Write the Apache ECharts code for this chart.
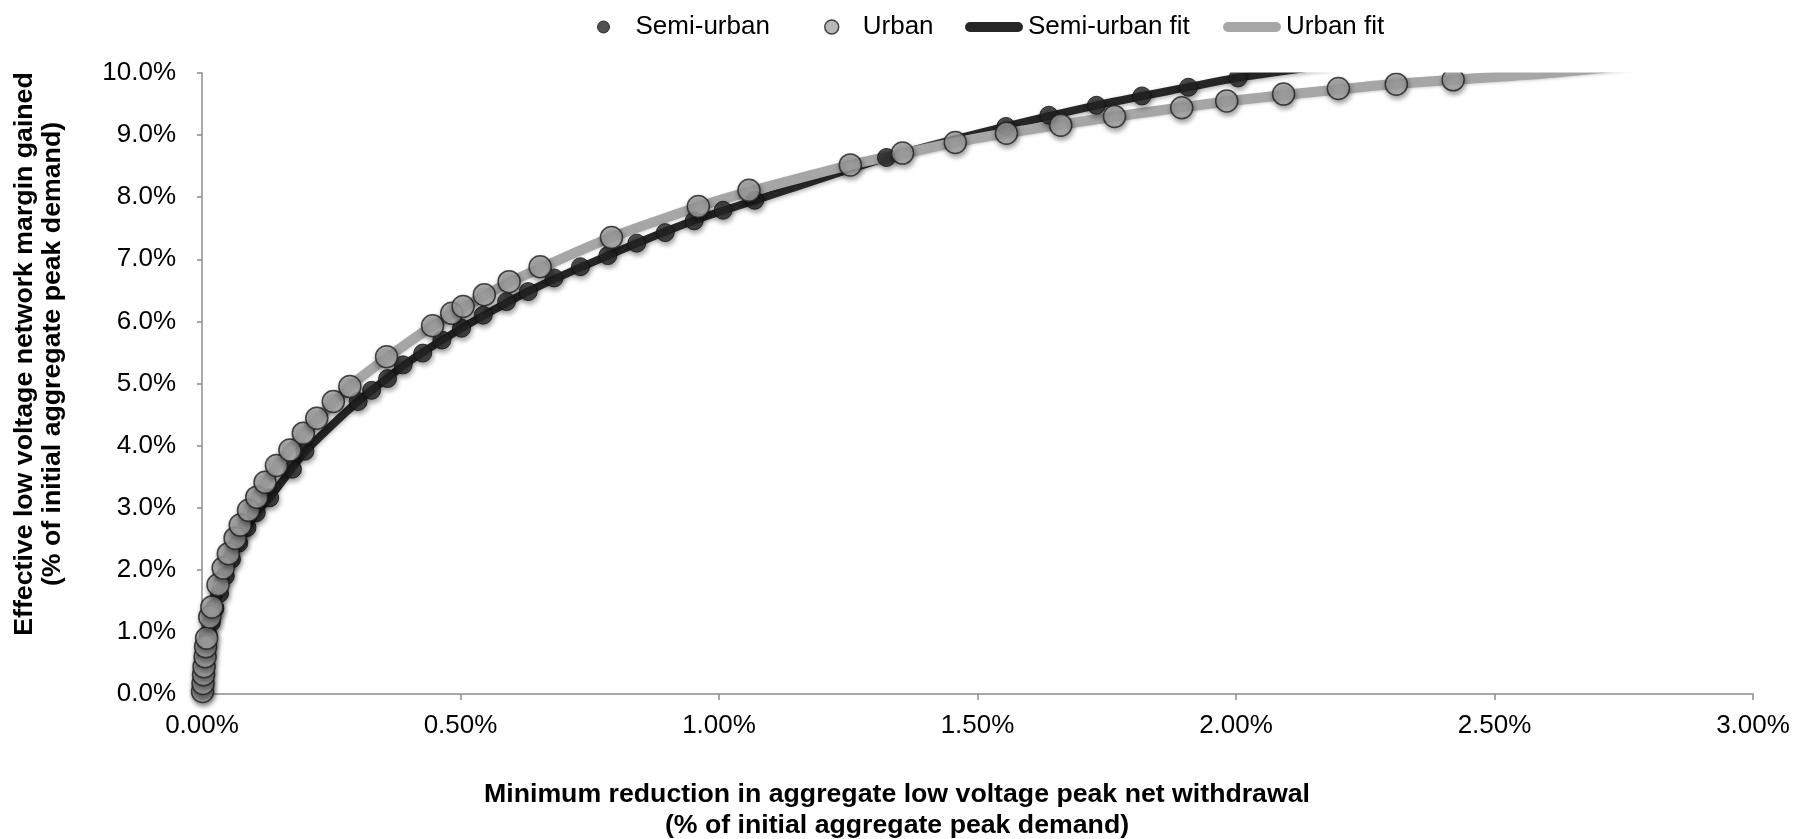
<!DOCTYPE html>
<html><head><meta charset="utf-8">
<script src="https://cdn.jsdelivr.net/npm/echarts@6/dist/echarts.min.js"></script>
<style>html,body{margin:0;padding:0;background:#fff}#c{width:1794px;height:839px}</style>
</head><body><div id="c"></div>
<script>
// x values and y values in percent
const seriesNames = ['Semi-urban', 'Urban', 'Semi-urban fit', 'Urban fit'];
const xTickLabels = ['0.00%', '0.50%', '1.00%', '1.50%', '2.00%', '2.50%', '3.00%'];
const yTickLabels = ['0.0%', '1.0%', '2.0%', '3.0%', '4.0%', '5.0%', '6.0%', '7.0%', '8.0%', '9.0%', '10.0%'];
const xAxisTitle = 'Minimum reduction in aggregate low voltage peak net withdrawal\n(% of initial aggregate peak demand)';
const yAxisTitle = 'Effective low voltage network margin gained\n(% of initial aggregate peak demand)';

const semiUrbanPoints = [
  [0.001,0.05],[0.002,0.20],[0.003,0.38],[0.005,0.56],[0.008,0.75],[0.012,0.95],[0.018,1.15],
  [0.025,1.38],[0.034,1.62],[0.045,1.90],[0.057,2.17],[0.071,2.43],[0.087,2.68],[0.105,2.92],
  [0.131,3.16],[0.175,3.62],[0.199,3.91],[0.302,4.71],[0.328,4.89],[0.359,5.08],[0.389,5.30],
  [0.427,5.49],[0.464,5.70],[0.502,5.89],[0.544,6.10],[0.589,6.32],[0.631,6.48],[0.681,6.70],
  [0.732,6.88],[0.785,7.06],[0.841,7.26],[0.896,7.43],[0.952,7.62],[1.008,7.79],[1.069,7.95],
  [1.324,8.64],[1.555,9.14],[1.638,9.32],[1.730,9.48],[1.818,9.63],[1.908,9.77],[2.004,9.92]
];
const urbanPoints = [
  [0.001,0.04],[0.002,0.17],[0.003,0.31],[0.004,0.44],[0.006,0.60],[0.007,0.76],[0.009,0.90],
  [0.015,1.24],[0.019,1.40],[0.031,1.76],[0.041,2.03],[0.051,2.26],[0.064,2.51],[0.074,2.72],
  [0.090,2.96],[0.106,3.17],[0.122,3.41],[0.144,3.68],[0.170,3.93],[0.196,4.20],[0.222,4.44],
  [0.254,4.71],[0.286,4.95],[0.357,5.43],[0.446,5.93],[0.483,6.13],[0.505,6.24],[0.546,6.43],
  [0.594,6.64],[0.654,6.88],[0.792,7.35],[0.960,7.85],[1.058,8.11],[1.254,8.52],[1.355,8.71],
  [1.457,8.88],[1.556,9.03],[1.661,9.16],[1.765,9.30],[1.895,9.44],[1.982,9.55],[2.092,9.66],
  [2.198,9.75],[2.310,9.82],[2.420,9.89]
];
const semiUrbanFit = [
  [0,0],[0.002,0.20],[0.005,0.56],[0.012,0.95],[0.025,1.38],[0.045,1.90],[0.071,2.43],[0.105,2.92],
  [0.131,3.16],[0.200,3.91],[0.300,4.70],[0.400,5.35],[0.500,5.88],[0.630,6.48],[0.785,7.06],
  [0.950,7.62],[1.070,7.95],[1.320,8.63],[1.550,9.13],[1.730,9.48],[1.900,9.76],[2.000,9.92],
  [2.065,10.00],[2.300,10.27]
];
const urbanFit = [
  [0,0],[0.002,0.20],[0.005,0.50],[0.009,0.90],[0.020,1.42],[0.040,2.00],[0.070,2.64],[0.100,3.10],
  [0.150,3.73],[0.200,4.22],[0.300,5.05],[0.450,5.95],[0.600,6.65],[0.800,7.38],[1.000,7.95],
  [1.250,8.51],[1.500,8.95],[1.750,9.28],[2.000,9.56],[2.250,9.78],[2.420,9.89],[2.610,10.00],
  [2.850,10.20]
];

const FONT = "'Liberation Sans', Arial, sans-serif";
const barIcon = 'path://M5,0 L53,0 A5,5 0 0 1 53,10 L5,10 A5,5 0 0 1 5,0 Z';
const chart = echarts.init(document.getElementById('c'), null, {renderer: 'canvas'});
const markerShadow = {shadowBlur: 5, shadowColor: 'rgba(0,0,0,0.45)', shadowOffsetX: 1, shadowOffsetY: 3};
const legendText = {fontFamily: FONT, fontSize: 26, color: '#000'};
const SEMI_COLOR = '#262626', URBAN_COLOR = '#a6a6a6';

function oneLegend(name, left, opts) {
  return Object.assign({left: left, top: 9, itemGap: 0, selectedMode: false,
    textStyle: Object.assign({}, legendText, opts.pad ? {padding: [0, 0, 0, opts.pad]} : {}),
    itemWidth: opts.w, itemHeight: opts.h,
    data: [{name: name, icon: opts.icon, itemStyle: opts.itemStyle}]});
}

chart.setOption({
  animation: false,
  backgroundColor: '#fff',
  grid: {left: 202, right: 41, top: 73, bottom: 145, containLabel: false},
  graphic: [
    {type: 'rect', silent: true, z: 50, shape: {x: 203, y: 38, width: 1600, height: 34.5},
      style: {fill: '#fff'}},
    {type: 'text', x: 897, y: 810.5, z: 60,
      style: {text: xAxisTitle, font: "bold 26.7px 'Liberation Sans', Arial, sans-serif",
        fill: '#000', align: 'center', verticalAlign: 'middle', lineHeight: 31}},
    {type: 'text', x: 39, y: 354, rotation: Math.PI / 2, z: 60,
      style: {text: yAxisTitle, font: "bold 26.7px 'Liberation Sans', Arial, sans-serif",
        fill: '#000', align: 'center', verticalAlign: 'middle', lineHeight: 28}}
  ],
  legend: [
    oneLegend(seriesNames[0], 592, {w: 12, h: 12, icon: 'circle', pad: 21,
      itemStyle: {color: SEMI_COLOR, borderColor: '#111', borderWidth: 1}}),
    oneLegend(seriesNames[1], 819, {w: 14, h: 14, icon: 'circle', pad: 19,
      itemStyle: {color: URBAN_COLOR, borderColor: '#1e1e1e', borderWidth: 1.5}}),
    oneLegend(seriesNames[2], 960, {w: 58, h: 10, icon: barIcon, pad: 0,
      itemStyle: {color: SEMI_COLOR, borderWidth: 0}}),
    oneLegend(seriesNames[3], 1218, {w: 58, h: 10, icon: barIcon, pad: 0,
      itemStyle: {color: URBAN_COLOR, borderWidth: 0}})
  ],
  xAxis: {
    type: 'value', min: 0, max: 3, interval: 0.5,
    axisLine: {show: true, lineStyle: {color: '#8c8c8c', width: 1.5}},
    axisTick: {show: true, length: 6, lineStyle: {color: '#8c8c8c', width: 1.5}},
    splitLine: {show: false},
    axisLabel: {fontFamily: FONT, fontSize: 26, color: '#000', margin: 19,
      formatter: v => xTickLabels[Math.round(v / 0.5)]}
  },
  yAxis: {
    type: 'value', min: 0, max: 10, interval: 1,
    axisLine: {show: true, lineStyle: {color: '#8c8c8c', width: 1.5}},
    axisTick: {show: true, length: 5, lineStyle: {color: '#8c8c8c', width: 1.5}},
    splitLine: {show: false},
    axisLabel: {fontFamily: FONT, fontSize: 26, color: '#000', margin: 26,
      formatter: v => yTickLabels[Math.round(v)]}
  },
  series: [
    {name: seriesNames[2], type: 'line', data: semiUrbanFit, showSymbol: false, smooth: 0.2, z: 2, clip: true,
      itemStyle: {color: SEMI_COLOR},
      lineStyle: {color: SEMI_COLOR, width: 8, shadowBlur: 4, shadowColor: 'rgba(0,0,0,0.3)', shadowOffsetY: 2}},
    {name: seriesNames[3], type: 'line', data: urbanFit, showSymbol: false, smooth: 0.2, z: 3, clip: true,
      itemStyle: {color: URBAN_COLOR},
      lineStyle: {color: URBAN_COLOR, width: 10, shadowBlur: 3, shadowColor: 'rgba(0,0,0,0.18)', shadowOffsetY: 1}},
    {name: seriesNames[0], type: 'scatter', data: semiUrbanPoints, symbol: 'circle', symbolSize: 18, z: 4,
      itemStyle: Object.assign({color: SEMI_COLOR, borderColor: '#111', borderWidth: 1}, markerShadow)},
    {name: seriesNames[1], type: 'scatter', data: urbanPoints, symbol: 'circle', symbolSize: 22, z: 5,
      itemStyle: Object.assign({color: URBAN_COLOR, borderColor: '#1e1e1e', borderWidth: 1.5}, markerShadow)}
  ]
});
</script></body></html>
